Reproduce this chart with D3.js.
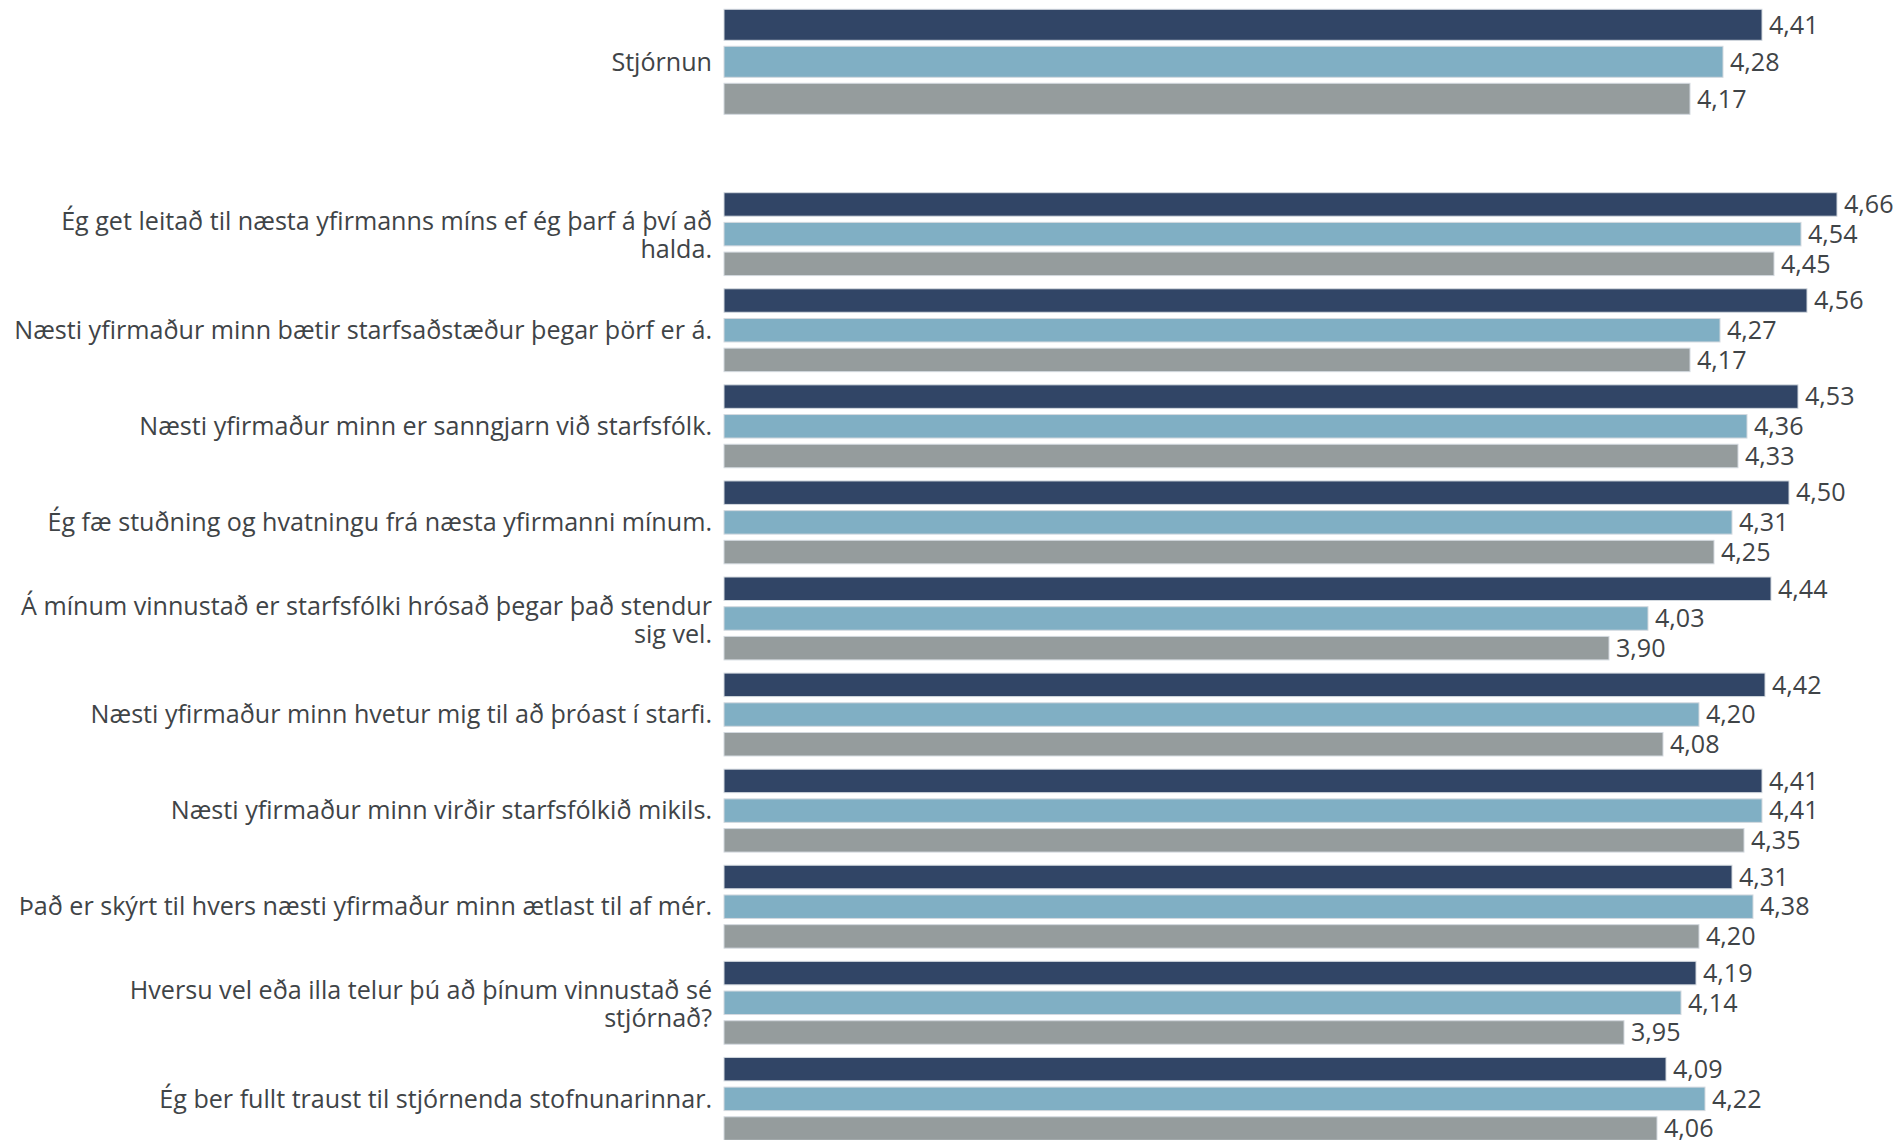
<!DOCTYPE html>
<html>
<head>
<meta charset="utf-8">
<script src="https://cdn.jsdelivr.net/npm/d3@7"></script>
<style>
  html, body { margin: 0; padding: 0; background: #ffffff; }
  svg { display: block; }
</style>
</head>
<body>
<svg id="chart" width="1898" height="1140"></svg>
<script>
// ---- DATA ----
const seriesKeys = ["s1", "s2", "s3"];

const topCategories = ["Stjórnun"];
const topS1 = [4.41];
const topS2 = [4.28];
const topS3 = [4.17];

const categories = [
  "Ég get leitað til næsta yfirmanns míns ef ég þarf á því að\nhalda.",
  "Næsti yfirmaður minn bætir starfsaðstæður þegar þörf er á.",
  "Næsti yfirmaður minn er sanngjarn við starfsfólk.",
  "Ég fæ stuðning og hvatningu frá næsta yfirmanni mínum.",
  "Á mínum vinnustað er starfsfólki hrósað þegar það stendur\nsig vel.",
  "Næsti yfirmaður minn hvetur mig til að þróast í starfi.",
  "Næsti yfirmaður minn virðir starfsfólkið mikils.",
  "Það er skýrt til hvers næsti yfirmaður minn ætlast til af mér.",
  "Hversu vel eða illa telur þú að þínum vinnustað sé\nstjórnað?",
  "Ég ber fullt traust til stjórnenda stofnunarinnar."
];
const s1 = [4.66, 4.56, 4.53, 4.50, 4.44, 4.42, 4.41, 4.31, 4.19, 4.09];
const s2 = [4.54, 4.27, 4.36, 4.31, 4.03, 4.20, 4.41, 4.38, 4.14, 4.22];
const s3 = [4.45, 4.17, 4.33, 4.25, 3.90, 4.08, 4.35, 4.20, 3.95, 4.06];

const xDomain = [0.95, 5];

// ---- STYLE ----
const colors = { s1: "#314566", s2: "#80afc4", s3: "#959c9d" };
const textColor = "#3f4447";
const fontFamily = "'Open Sans', 'Noto Sans', sans-serif";

const svg = d3.select("#chart");

// fit font size so the reference's longest single line spans its measured width
const probe = svg.append("text")
  .style("font-family", fontFamily).style("font-size", "100px")
  .text("Næsti yfirmaður minn bætir starfsaðstæður þegar þörf er á.");
const probeW = probe.node().getComputedTextLength();
probe.remove();
const fontSize = Math.max(20, Math.min(26, 100 * 698 / probeW));

const fmtNum = d3.formatLocale({ decimal: ",", thousands: ".", grouping: [3], currency: ["", ""] }).format(".2f");

const x = d3.scaleLinear().domain(xDomain).range([724, 1939]);
const labelX = 712;

function drawPanel(cats, vals, yRange, outerPad, innerPad, innerOuterPad) {
  const rows = cats.map((c, i) => ({
    cat: c,
    vals: seriesKeys.map((k, j) => ({ key: k, value: vals[j][i] }))
  }));
  const y0 = d3.scaleBand().domain(cats).range(yRange)
    .paddingInner(outerPad).paddingOuter(outerPad / 2);
  const y1 = d3.scaleBand().domain(seriesKeys).range([0, y0.bandwidth()])
    .paddingInner(innerPad).paddingOuter(innerOuterPad);

  const g = svg.append("g");
  const grp = g.selectAll("g.grp").data(rows).join("g")
    .attr("class", "grp")
    .attr("transform", d => `translate(0,${y0(d.cat)})`);

  grp.selectAll("rect").data(d => d.vals).join("rect")
    .attr("x", x(xDomain[0]))
    .attr("y", d => y1(d.key))
    .attr("width", d => x(d.value) - x(xDomain[0]))
    .attr("height", y1.bandwidth())
    .attr("fill", d => colors[d.key])
    .attr("stroke", "#d3d9df")
    .attr("stroke-width", 1);

  grp.selectAll("text.val").data(d => d.vals).join("text")
    .attr("class", "val")
    .attr("x", d => x(d.value) + 7)
    .attr("y", d => y1(d.key) + y1.bandwidth() / 2)
    .attr("dy", "0.35em")
    .style("font-family", fontFamily)
    .style("font-size", fontSize + "px")
    .attr("fill", textColor)
    .text(d => fmtNum(d.value));

  // category labels (pre-wrapped lines)
  const lineH = 28;
  grp.append("text")
    .attr("class", "cat")
    .attr("text-anchor", "end")
    .style("font-family", fontFamily)
    .style("font-size", fontSize + "px")
    .attr("fill", textColor)
    .each(function(d) {
      const lines = d.cat.split("\n");
      const mid = y0.bandwidth() / 2 + (lines.length > 1 ? 1.5 : 0);
      const t = d3.select(this);
      lines.forEach((ln, i) => {
        t.append("tspan")
          .attr("x", labelX)
          .attr("y", mid + (i - (lines.length - 1) / 2) * lineH)
          .attr("dy", "0.35em")
          .text(ln);
      });
    });
}

// top summary panel
drawPanel(topCategories, [topS1, topS2, topS3], [6.3, 117.3], 0, 0.162, 0.081);
// question panel
drawPanel(categories, [s1, s2, s3], [186.1, 186.1 + 10 * 96.08], 0.0727, 0.209, 0.1045);
</script>
</body>
</html>
